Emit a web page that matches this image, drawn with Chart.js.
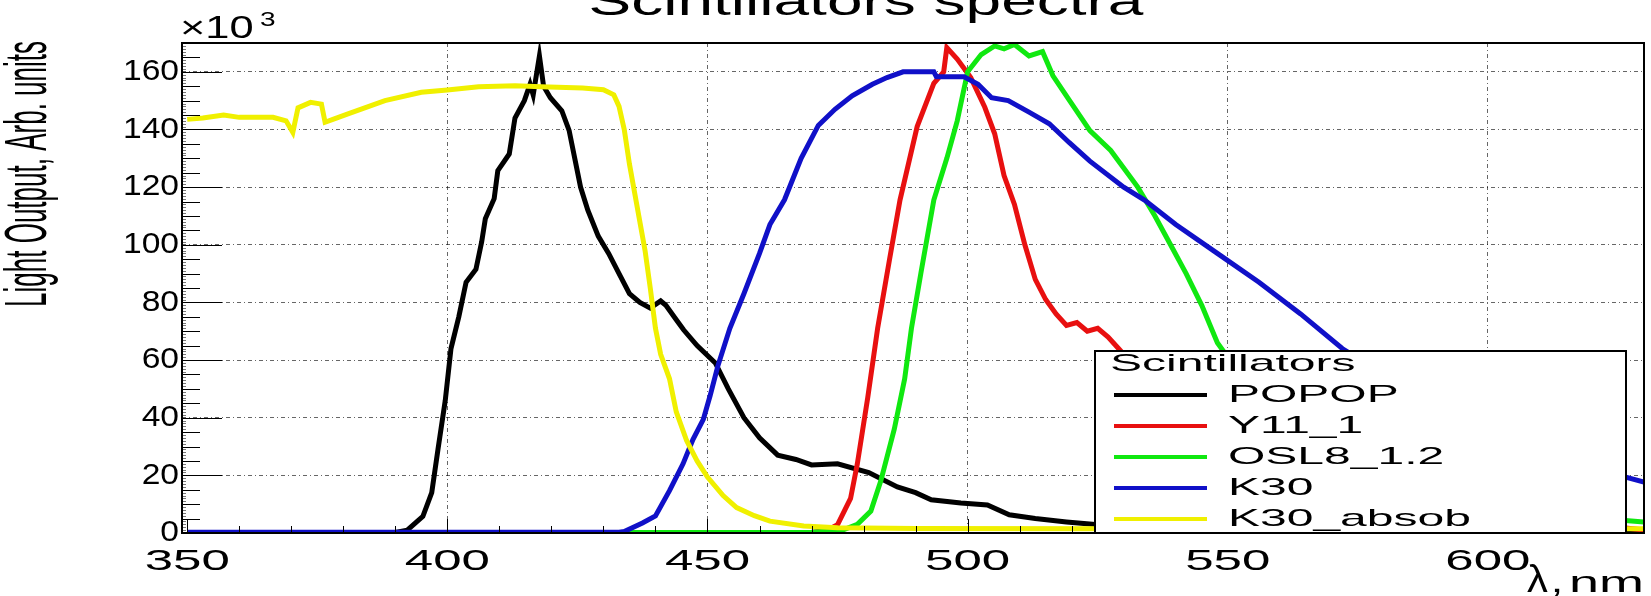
<!DOCTYPE html>
<html>
<head>
<meta charset="utf-8">
<script src="https://cdn.jsdelivr.net/npm/chart.js@4"></script>
<style>
  html, body { margin: 0; padding: 0; background: #fff; }
  canvas { display: block; }
</style>
</head>
<body>
<canvas id="chart" width="1651" height="596"></canvas>
<script>
// wavelength (nm) and light output (x10^3 arb. units)
const popopX = [350, 370, 390, 392.3, 395.3, 397, 398.2, 399.6, 400.7, 402.2, 403.6, 405.5, 406.6, 407.3, 409, 409.7, 411.9, 413, 414.8, 415.9, 416.5, 417.7, 418.5, 419.8, 422, 423.4, 425.6, 427, 429, 431, 433, 435, 437, 439, 441, 442, 444, 445.4, 448, 451.5, 454, 457, 460, 463.5, 467, 470, 475, 481, 486.5, 490, 493, 498.7, 503.8, 508, 513, 519, 524, 530, 540, 560, 600, 630];
const popopY = [0, 0, 0.2, 1, 5.8, 14, 29, 46, 64, 75, 87, 91.5, 101, 109, 116, 125.7, 131.5, 144, 150, 155.7, 152, 165.5, 155, 151, 146.5, 139.7, 120, 112, 103, 97, 90, 83, 80, 78, 80.5, 79, 74, 70.5, 65, 59, 50, 40, 33, 27, 25.5, 23.6, 24, 21, 16, 14, 11.5, 10.4, 9.7, 6.3, 5, 3.8, 3, 2, 1.5, 0.8, 0.3, 0.2];

const y11X = [350, 470, 473, 475, 477.5, 478.8, 480.8, 482.7, 485, 487, 490.3, 493.5, 495.4, 496, 498, 500.6, 503.3, 505.2, 507, 509, 511, 513, 515, 517, 519, 521, 523, 525, 527, 529, 531, 536, 545, 555, 570, 585, 600, 615, 630];
const y11Y = [0, 0.2, 1, 2.9, 12, 24, 47, 71, 95, 115.5, 141, 156, 160, 168.4, 164.4, 158, 147.7, 138.5, 124, 114, 100, 88, 81, 76, 72, 73, 70, 71, 68, 64, 60, 55, 46, 37, 26, 17, 10, 4, 1];

const osl8X = [350, 470, 476, 478.8, 481.4, 483.3, 485.9, 487.9, 489.2, 491, 493.5, 496, 498, 500, 502.6, 505.2, 507, 509, 511.8, 514.4, 516.4, 519.6, 523.5, 527.5, 532.7, 536, 539, 542, 545, 548, 550, 555, 560, 570, 580, 590, 600, 615, 630];
const osl8Y = [0, 0.3, 1, 3, 7.6, 18, 36, 53.5, 71, 90, 115.5, 130, 143, 160, 166, 169, 168, 169.5, 165.5, 167, 158.6, 150, 139.6, 132.7, 120, 110, 100, 90, 79, 66, 61, 55, 48, 37, 27, 18, 12, 6, 3.8];

const k30X = [350, 433, 434, 437.5, 440, 442.7, 445.3, 447.2, 449.2, 450.5, 452, 454.3, 457, 460, 462, 464.8, 468, 471.3, 474.5, 477.8, 481.7, 484.5, 487.6, 493.5, 494, 499.3, 502, 504.6, 507.8, 511.8, 515.7, 519.5, 523.5, 530, 534, 540, 548, 556, 564, 572, 580, 590, 600, 615, 630];
const k30Y = [0.3, 0.3, 0.5, 3.5, 5.9, 14.7, 24, 32.4, 39.4, 47.6, 58, 71, 83, 97, 107, 115.6, 130, 141.4, 147, 151.7, 155.7, 158, 160, 160, 158.3, 158.3, 155.7, 151, 150, 146, 142, 135.5, 129, 120, 115.5, 107, 97, 87, 76, 64, 55, 44, 35, 25, 17.7];

const absobX = [350, 353, 357, 360, 366.5, 369, 370.3, 371.3, 373.7, 375.8, 376.5, 378, 380.9, 388, 395, 400, 406, 413, 418, 426, 430, 432, 433, 434, 435, 436, 437, 438, 439, 440, 441, 442.7, 444, 446, 448, 450, 453, 455.6, 459, 462, 468.5, 475, 490, 530, 630];
const absobY = [143.5, 144, 145, 144.2, 144.2, 143, 139, 147.5, 149.4, 148.8, 142.5, 143.5, 145.4, 150, 152.9, 153.7, 154.8, 155.2, 154.8, 154.4, 153.8, 152, 148, 140, 128, 118, 108, 98, 85, 71, 62, 53.5, 42, 32, 25, 19.4, 13, 8.8, 6, 4.1, 2.4, 1.8, 1.6, 1.5, 1.5];

const seriesNames = ['POPOP', 'Y11_1', 'OSL8_1.2', 'K30', 'K30_absob'];
const seriesColors = ['#000000', '#e81010', '#10e810', '#1010c8', '#f0f000'];
const xTickLabels = ['350', '400', '450', '500', '550', '600'];
const yTickLabels = ['0', '20', '40', '60', '80', '100', '120', '140', '160'];

const FONT = '"Liberation Sans", Arial, sans-serif';

function toPoints(xs, ys) {
  return xs.map((x, i) => ({ x: x, y: ys[i] }));
}

// draw text squeezed/stretched horizontally like the original picture
function drawText(ctx, text, x, y, size, align, sx, baseline) {
  ctx.save();
  ctx.translate(x, y);
  ctx.scale(sx, 1);
  ctx.font = size + 'px ' + FONT;
  ctx.fillStyle = '#000';
  ctx.textAlign = align;
  ctx.textBaseline = baseline || 'middle';
  ctx.fillText(text, 0, 0);
  ctx.restore();
}

// ROOT-like frame, inner ticks, labels, titles and legend
const rootStylePlugin = {
  id: 'rootStyle',
  afterDatasetsDraw: (chart) => {
    const ctx = chart.ctx;
    const area = chart.chartArea;
    const xScale = chart.scales.x;
    const yScale = chart.scales.y;

    ctx.save();
    ctx.strokeStyle = '#000';
    ctx.lineWidth = 1;

    // x ticks, pointing up into the frame
    for (let v = 350; v <= 630; v += 10) {
      const px = Math.round(xScale.getPixelForValue(v)) + 0.5;
      const len = v % 50 === 0 ? 14 : 7;
      ctx.beginPath();
      ctx.moveTo(px, area.bottom);
      ctx.lineTo(px, area.bottom - len);
      ctx.stroke();
    }

    // y ticks, pointing right into the frame
    for (let v = 0; v <= 170; v += 1) {
      const py = Math.round(yScale.getPixelForValue(v)) + 0.5;
      let len = 4;
      if (v % 20 === 0) len = 40;
      else if (v % 5 === 0) len = 18;
      ctx.strokeStyle = len === 4 ? '#777' : '#000';
      ctx.beginPath();
      ctx.moveTo(area.left, py);
      ctx.lineTo(area.left + len, py);
      ctx.stroke();
    }

    // frame
    ctx.strokeStyle = '#000';
    ctx.lineWidth = 2;
    ctx.strokeRect(area.left, area.top, area.right - area.left, area.bottom - area.top);

    // tick labels
    yTickLabels.forEach(t => {
      drawText(ctx, t, area.left - 3, yScale.getPixelForValue(Number(t)), 30, 'right', 1.12);
    });
    xTickLabels.forEach(t => {
      drawText(ctx, t, xScale.getPixelForValue(Number(t)), area.bottom + 29, 30, 'center', 1.7);
    });

    // exponent above the y axis
    drawText(ctx, '\u00d710', area.left - 2, 29, 31, 'left', 1.4);
    drawText(ctx, '3', area.left + 78, 20, 20, 'left', 1.4);

    // axis titles: lambda, comma and unit placed separately
    drawText(ctx, 'nm', chart.width - 7, 592, 30, 'right', 1.8, 'alphabetic');
    drawText(ctx, ',', chart.width - 94, 592, 30, 'center', 1.5, 'alphabetic');
    drawText(ctx, '\u03bb', chart.width - 103, 592, 38, 'right', 1.1, 'alphabetic');
    ctx.save();
    ctx.translate(30, area.top - 2);
    ctx.scale(2.25, 1);
    ctx.rotate(-Math.PI / 2);
    ctx.font = '26px ' + FONT;
    ctx.fillStyle = '#000';
    ctx.textAlign = 'right';
    ctx.textBaseline = 'middle';
    ctx.fillText('Light Output, Arb. units', 0, 0);
    ctx.restore();

    // chart title, cut by the top edge
    drawText(ctx, 'Scintillators spectra', 866, 15, 40, 'center', 1.6, 'alphabetic');

    // legend box
    const lx = 1095, ly = 351, lw = 531, lh = area.bottom - 351;
    ctx.fillStyle = '#fff';
    ctx.fillRect(lx, ly, lw, lh);
    ctx.lineWidth = 2;
    ctx.strokeStyle = '#000';
    ctx.strokeRect(lx, ly, lw, lh);
    drawText(ctx, 'Scintillators', lx + 15, ly + 13, 24, 'left', 2.0);
    seriesNames.forEach((name, i) => {
      const ry = 395 + i * 31;
      ctx.strokeStyle = seriesColors[i];
      ctx.lineWidth = 4;
      ctx.beginPath();
      ctx.moveTo(lx + 19, ry);
      ctx.lineTo(lx + 112, ry);
      ctx.stroke();
      drawText(ctx, name, lx + 133, ry, 24, 'left', 2.0);
    });
    ctx.restore();
  }
};

const seriesX = [popopX, y11X, osl8X, k30X, absobX];
const seriesY = [popopY, y11Y, osl8Y, k30Y, absobY];

const datasets = seriesNames.map((name, i) => ({
  label: name,
  data: toPoints(seriesX[i], seriesY[i]),
  borderColor: seriesColors[i],
  backgroundColor: seriesColors[i],
  borderWidth: 5,
  pointRadius: 0,
  tension: 0,
  fill: false,
  order: seriesNames.length - i
}));

const gridColor = (c) => (c.tick && (c.tick.value === 0 || c.tick.value === 350)) ? 'rgba(0,0,0,0)' : 'rgba(0,0,0,0.6)';

new Chart(document.getElementById('chart').getContext('2d'), {
  type: 'line',
  data: { datasets: datasets },
  options: {
    responsive: false,
    animation: false,
    devicePixelRatio: 1,
    layout: { padding: { left: 182, top: 43, right: 7, bottom: 63 } },
    plugins: { legend: { display: false }, tooltip: { enabled: false } },
    scales: {
      x: {
        type: 'linear',
        min: 349,
        max: 630,
        ticks: { display: false, stepSize: 50, includeBounds: false },
        grid: { color: gridColor, lineWidth: 1, drawTicks: false },
        border: { display: false, dash: [4, 3, 1, 3] }
      },
      y: {
        type: 'linear',
        min: 0,
        max: 170,
        ticks: { display: false, stepSize: 20, includeBounds: false },
        grid: { color: gridColor, lineWidth: 1, drawTicks: false },
        border: { display: false, dash: [4, 3, 1, 3] }
      }
    }
  },
  plugins: [rootStylePlugin]
});
</script>
</body>
</html>
